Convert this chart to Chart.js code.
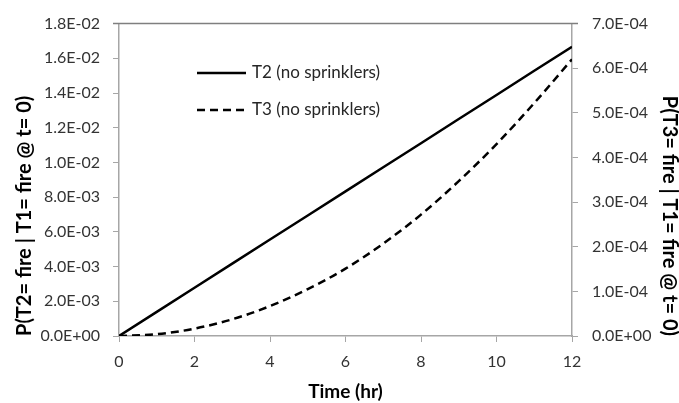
<!DOCTYPE html>
<html>
<head>
<meta charset="utf-8">
<script src="https://cdn.jsdelivr.net/npm/chart.js@4"></script>
<style>
  html, body { margin: 0; padding: 0; background: #fff; }
  #wrap { width: 679px; height: 403px; }
</style>
</head>
<body>
<div id="wrap"><canvas id="chart" width="679" height="403"></canvas></div>
<script>
// datos
const hours = [0, 1, 2, 3, 4, 5, 6, 7, 8, 9, 10, 11, 12];
const t2Values = [0, 0.00139, 0.00278, 0.00417, 0.00556, 0.00694, 0.00833, 0.00972, 0.01111, 0.0125, 0.01389, 0.01528, 0.01667];
const t3Values = [0, 0.000004, 0.0000165, 0.0000375, 0.000067, 0.000105, 0.000151, 0.000207, 0.000272, 0.000347, 0.00043, 0.000522, 0.00062];
const seriesNames = ['T2 (no sprinklers)', 'T3 (no sprinklers)'];
const xTitle = 'Time (hr)';
const yTitle = 'P(T2= fire | T1= fire @ t= 0)';
const y1Title = 'P(T3= fire | T1= fire @ t= 0)';

const axisColor = '#a6a6a6';
const labelFont = { family: 'Lato', size: 16 };
const yTitleFont = { family: 'Lato', size: 20, weight: 'bold', lineHeight: 1 };
const xTitleFont = { family: 'Lato', size: 19, weight: 'bold' };

// formato tipo Excel: 1.8E-02
const sci = (v) => {
    if (v === 0) return '0.0E+00';
    const [m, e] = Number(v).toExponential(1).toUpperCase().split('E');
    const n = parseInt(e, 10);
    return m + 'E' + (n < 0 ? '-' : '+') + String(Math.abs(n)).padStart(2, '0');
};

const toPoints = (vals) => hours.map((h, i) => ({ x: h, y: vals[i] }));

// leyenda dentro del área del gráfico y línea superior
const extras = {
    id: 'extras',
    afterDraw(chart) {
        const c = chart.ctx;
        const area = chart.chartArea;
        c.save();
        c.strokeStyle = '#7f7f7f';
        c.lineWidth = 1.5;
        c.beginPath();
        c.moveTo(area.left - 6, area.top);
        c.lineTo(area.right + 6, area.top);
        c.stroke();

        const rows = [73, 110];
        chart.data.datasets.forEach((ds, i) => {
            const y = rows[i];
            c.strokeStyle = ds.borderColor;
            c.lineWidth = ds.borderWidth;
            c.setLineDash(ds.borderDash || []);
            c.beginPath();
            c.moveTo(197, y);
            c.lineTo(246, y);
            c.stroke();
            c.setLineDash([]);
            c.fillStyle = '#262626';
            c.font = '17px Lato';
            c.textBaseline = 'middle';
            c.fillText(ds.label, 252, y);
        });
        c.restore();
    }
};

new Chart(document.getElementById('chart'), {
    type: 'line',
    data: {
        datasets: [
            {
                label: seriesNames[0],
                data: toPoints(t2Values),
                yAxisID: 'y',
                borderColor: '#000',
                borderWidth: 2.5,
                pointRadius: 0,
                tension: 0
            },
            {
                label: seriesNames[1],
                data: toPoints(t3Values),
                yAxisID: 'y1',
                borderColor: '#000',
                borderWidth: 2.5,
                borderDash: [8, 5],
                pointRadius: 0,
                cubicInterpolationMode: 'monotone'
            }
        ]
    },
    options: {
        responsive: false,
        animation: false,
        layout: { padding: { top: 16, left: 0, right: 0, bottom: 0 } },
        plugins: {
            legend: { display: false },
            tooltip: { enabled: false }
        },
        scales: {
            x: {
                type: 'linear',
                min: 0,
                max: 12,
                afterFit: (s) => { s.height = 67; },
                ticks: { stepSize: 2, color: '#333', font: labelFont, padding: 10 },
                grid: { display: true, drawOnChartArea: false, color: axisColor, tickLength: 6 },
                border: { color: axisColor, width: 1.5 },
                title: { display: true, text: xTitle, color: '#000', font: xTitleFont, padding: { top: 0, bottom: 0 } }
            },
            y: {
                position: 'left',
                min: 0,
                max: 0.018,
                afterFit: (s) => { s.width = 119; },
                ticks: { stepSize: 0.002, color: '#333', font: labelFont, padding: 13, callback: (v) => sci(v) },
                grid: { display: true, drawOnChartArea: false, color: axisColor, tickLength: 6 },
                border: { color: axisColor, width: 1.5 },
                title: { display: true, text: yTitle, align: 'start', color: '#000', font: yTitleFont, padding: { top: 15, bottom: 0 } }
            },
            y1: {
                position: 'right',
                min: 0,
                max: 0.0007,
                afterFit: (s) => { s.width = 107; },
                ticks: { stepSize: 0.0001, color: '#333', font: labelFont, padding: 14, callback: (v) => sci(v) },
                grid: { display: true, drawOnChartArea: false, color: axisColor, tickLength: 6 },
                border: { color: axisColor, width: 1.5 },
                title: { display: true, text: y1Title, align: 'start', color: '#000', font: yTitleFont, padding: { top: 0, bottom: 0 } }
            }
        }
    },
    plugins: [extras]
});
</script>
</body>
</html>
